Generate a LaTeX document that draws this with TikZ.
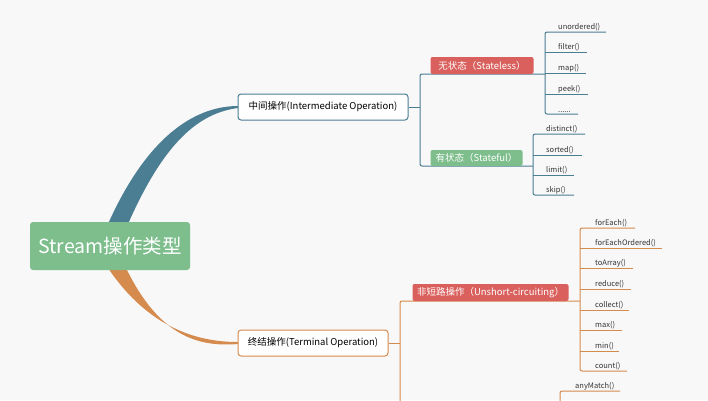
\documentclass[tikz,border=0pt]{standalone}
\usepackage{fontspec}
\setmainfont{Noto Sans CJK SC}
\definecolor{bg}{HTML}{F8F8F8}
\definecolor{teal}{HTML}{4B7D93}
\definecolor{org}{HTML}{D58A4E}
\definecolor{rd}{HTML}{D9605D}
\definecolor{gr}{HTML}{7DBE8C}
\definecolor{txt}{HTML}{333333}
\tikzset{
 item/.style={anchor=south west,inner sep=1pt,font=\fontsize{7.5}{8}\selectfont,text=txt},
 catbox/.style={rounded corners=2pt,inner sep=0pt,text=white,font=\fontsize{9.5}{10}\selectfont,anchor=west},
 opbox/.style={draw,line width=1pt,fill=white,rounded corners=3pt,inner sep=0pt,font=\fontsize{9.5}{10}\selectfont,text=black,minimum height=26pt}
}
\begin{document}
\begin{tikzpicture}[x=1pt,y=-1pt]
\fill[bg] (0,0) rectangle (708,400);
\useasboundingbox (0,0) rectangle (708,400);
% curves
\fill[teal] (108,224) .. controls (150,130) and (200,106) .. (238,106) -- (238,108) .. controls (200,113) and (165,140) .. (128,224) -- cycle;
\fill[org] (108,268) .. controls (150,330) and (200,342) .. (238,342) -- (238,344) .. controls (200,347) and (160,338) .. (126,268) -- cycle;
% root
\node[fill=gr,rounded corners=3pt,minimum width=160pt,minimum height=48pt,text=white,font=\fontsize{19.5}{20}\selectfont] (root) at (110,246) {Stream操作类型};
% middle
\node[opbox,draw=teal,minimum width=170pt] (mid) at (323,107) {中间操作(Intermediate Operation)};
\node[opbox,draw=org,minimum width=150pt] (term) at (313,343) {终结操作(Terminal Operation)};
\begin{scope}[teal,line width=1pt]
\coordinate (m1) at (420,107);
\draw (mid.east) -- (m1);
\draw[rounded corners=2pt] (545,74) -- (420,74) -- (420,166) -- (533,166);
\node[catbox,fill=rd,minimum width=103pt,minimum height=17pt] (sl) at (430,65.5) {无状态（Stateless）};
\node[catbox,fill=gr,minimum width=92pt,minimum height=16pt] (sf) at (430,158) {有状态（Stateful）};
\draw[rounded corners=2pt] (606,32) -- (545,32) -- (545,114) -- (578,114);
\foreach \y/\e in {52/587,73/586,94/588} \draw (545,\y) -- (\e,\y);
\draw[rounded corners=2pt] (585,134) -- (533,134) -- (533,195) -- (574,195);
\foreach \y/\e in {155/582,175/574} \draw (533,\y) -- (\e,\y);
\end{scope}
\foreach \t/\y in {unordered()/32,filter()/52,map()/73,peek()/94} \node[item] at (557,\y) {\t};
\node[item] (dots) at (557,114) {......};
\foreach \t/\y in {distinct()/134,sorted()/155,limit()/175,skip()/195} \node[item] at (545,\y) {\t};
\begin{scope}[org,line width=1pt]
\draw (term.east) -- (400,343);
\draw[rounded corners=2pt] (580,301) -- (400,301) -- (400,401);
\node[catbox,fill=rd,minimum width=156pt,minimum height=17pt] (us) at (412,292.5) {非短路操作（Unshort-circuiting）};
\draw[rounded corners=2pt] (635,228) -- (580,228) -- (580,371) -- (627,371);
\foreach \y/\e in {248/662,268/633,289/631,310/629,330/622,351/619} \draw (580,\y) -- (\e,\y);
\draw[rounded corners=2pt] (620,391) -- (560,391) -- (560,401);
\end{scope}
\foreach \t/\y in {forEach()/228,forEachOrdered()/248,toArray()/268,reduce()/289,collect()/310,max()/330,min()/351,count()/371} \node[item] at (594,\y) {\t};
\node[item] at (574,391) {anyMatch()};
\end{tikzpicture}
\end{document}
